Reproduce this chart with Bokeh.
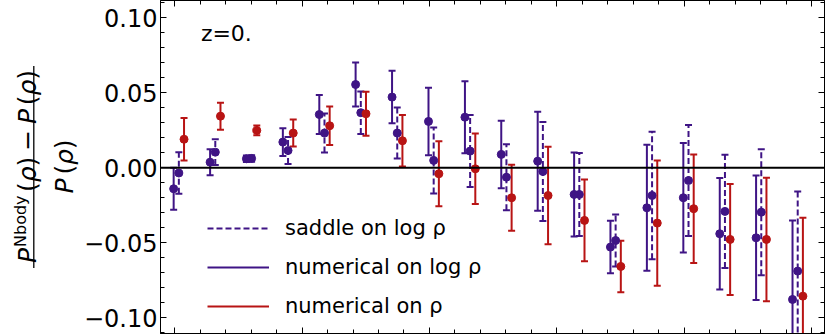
import numpy as np
from bokeh.plotting import figure
from bokeh.layouts import row
from bokeh.models import (ColumnDataSource, Whisker, TeeHead, Span, Label, Legend, LegendItem,
                          LinearAxis, FixedTicker, CustomJSTickFormatter, Arrow, Range1d)
from bokeh.embed import file_html
from bokeh.resources import INLINE

# ---------------- data ----------------
group_x = [0.033, 0.319, 0.604, 0.890, 1.176, 1.461, 1.747, 2.033, 2.319,
           2.604, 2.890, 3.176, 3.461, 3.747, 4.033, 4.319, 4.604, 4.890]

saddle_log = [-0.0035, 0.0104, 0.0062, 0.0115, 0.0231, 0.0367, 0.0231, 0.0049, 0.0111,
              -0.0063, -0.0025, -0.0178, -0.0485, -0.0185, -0.0085, -0.0291, -0.0296, -0.0689]
saddle_log_err = [0.0138, 0.0086, 0.0022, 0.0090, 0.0130, 0.0142, 0.0170, 0.0220, 0.0240,
                  0.0220, 0.0330, 0.0277, 0.0173, 0.0425, 0.0370, 0.0378, 0.0420, 0.0530]

numerical_log = [-0.0140, 0.0037, 0.0060, 0.0171, 0.0355, 0.0555, 0.0471, 0.0309, 0.0337,
                 0.0089, 0.0044, -0.0178, -0.0529, -0.0267, -0.0200, -0.0440, -0.0467, -0.0878]
numerical_log_err = [0.0140, 0.0087, 0.0022, 0.0093, 0.0130, 0.0147, 0.0175, 0.0225, 0.0240,
                     0.0225, 0.0330, 0.0280, 0.0175, 0.0420, 0.0365, 0.0372, 0.0415, 0.0527]

numerical_rho = [0.0190, 0.0344, 0.0249, 0.0231, 0.0280, 0.0360, 0.0180, -0.0040, -0.0007,
                 -0.0200, -0.0185, -0.0351, -0.0658, -0.0369, -0.0273, -0.0478, -0.0478, -0.0856]
numerical_rho_err = [0.0142, 0.0090, 0.0033, 0.0090, 0.0128, 0.0147, 0.0172, 0.0217, 0.0235,
                     0.0220, 0.0325, 0.0273, 0.0172, 0.0417, 0.0362, 0.0370, 0.0412, 0.0523]

series_labels = ["saddle on log ρ", "numerical on log ρ", "numerical on ρ"]
ytick_values = [-0.10, -0.05, 0.0, 0.05, 0.10]
ytick_labels = ["−0.10", "−0.05", "0.00", "0.05", "0.10"]
xtick_values = [0, 1, 2, 3, 4, 5]
panel_label = "z=0."

# ---------------- styles / layout ----------------
PURPLE = "#3f1485"
RED = "#b81414"
FONT = "DejaVu Sans"

TW = 80                      # width of the strip holding the y title
W, H = 830 - TW, 336
BL, BR, BT, BB = 158 - TW, 6, 0, 3
FW, FH = W - BL - BR, H - BT - BB
XSCALE = 127.8
X_START = -0.111
X_END = X_START + FW / XSCALE
YSCALE = 1500.0
Y_END = 0.1115
Y_START = Y_END - FH / YSCALE
OFF = 5.2 / XSCALE


def dx(page_x):
    return X_START + (page_x - (TW + BL)) / XSCALE


def dy(page_y):
    return Y_END - (page_y - BT) / YSCALE


p = figure(width=W, height=H, x_range=Range1d(X_START, X_END), y_range=Range1d(Y_START, Y_END),
           output_backend="svg", toolbar_location=None,
           min_border_left=BL, min_border_right=BR, min_border_top=BT, min_border_bottom=BB)
p.xgrid.visible = False
p.ygrid.visible = False
p.outline_line_color = "black"
p.outline_line_width = 1
p.background_fill_color = "white"
p.border_fill_color = "white"

xminor = [round(v, 1) for v in np.arange(0, 5.01, 0.2)]
yminor = [round(v, 2) for v in np.arange(-0.11, 0.111, 0.01)]


def style_axis(ax, ticker, labels=False):
    ax.ticker = ticker
    ax.axis_line_color = "black"
    ax.axis_line_width = 1
    ax.major_tick_in = 6
    ax.major_tick_out = 0
    ax.minor_tick_in = 4
    ax.minor_tick_out = 0
    ax.major_tick_line_color = "black"
    ax.minor_tick_line_color = "black"
    if not labels:
        ax.formatter = CustomJSTickFormatter(code="return ''")
        ax.major_label_text_font_size = "0px"
        ax.major_label_standoff = 0


style_axis(p.xaxis[0], FixedTicker(ticks=xtick_values, minor_ticks=xminor))
style_axis(p.yaxis[0], FixedTicker(ticks=ytick_values, minor_ticks=yminor), labels=True)
p.yaxis[0].major_label_overrides = dict(zip(ytick_values, ytick_labels))
p.yaxis[0].major_label_text_font = FONT
p.yaxis[0].major_label_text_font_size = "24px"
p.yaxis[0].major_label_text_color = "black"
p.yaxis[0].major_label_standoff = 3

top_ax = LinearAxis()
style_axis(top_ax, FixedTicker(ticks=xtick_values, minor_ticks=xminor))
p.add_layout(top_ax, "above")
right_ax = LinearAxis()
style_axis(right_ax, FixedTicker(ticks=ytick_values, minor_ticks=yminor))
p.add_layout(right_ax, "right")

p.add_layout(Span(location=0, dimension="width", line_color="black", line_width=2))

series = [
    (saddle_log, saddle_log_err, 0.0, PURPLE, "6 3"),
    (numerical_log, numerical_log_err, -OFF, PURPLE, "solid"),
    (numerical_rho, numerical_rho_err, OFF, RED, "solid"),
]
legend_items = []
for (vals, errs, off, col, dash), lab in zip(series, series_labels):
    xs = [g + off for g in group_x]
    src = ColumnDataSource(dict(x=xs, y=vals,
                                upper=[v + e for v, e in zip(vals, errs)],
                                lower=[v - e for v, e in zip(vals, errs)]))
    wk = Whisker(base="x", upper="upper", lower="lower", source=src, dimension="height",
                 line_color=col, line_width=2, line_dash=dash,
                 upper_head=TeeHead(size=7, line_color=col, line_width=2),
                 lower_head=TeeHead(size=7, line_color=col, line_width=2))
    p.add_layout(wk)
    p.scatter("x", "y", source=src, size=8, color=col)
    # hidden line through the series, used only for the legend sample
    r = p.line("x", "y", source=src, line_color=col, line_width=2, line_dash=dash, visible=False)
    legend_items.append(LegendItem(label=lab, renderers=[r]))

legend = Legend(items=legend_items, location=(47, 14), glyph_width=62, glyph_height=26,
                label_height=26, label_standoff=16, spacing=13, padding=0, margin=0,
                border_line_alpha=0, background_fill_alpha=0,
                label_text_font=FONT, label_text_font_size="21px", label_text_color="black")
p.add_layout(legend)

p.add_layout(Label(x=dx(198.5), y=dy(32.7), text=panel_label, text_font=FONT,
                   text_font_size="22px", text_align="left", text_baseline="alphabetic",
                   text_color="black"))

# ---------------- rotated fraction title (own strip, page pixel coordinates) ----------------
t = figure(width=TW, height=H, x_range=Range1d(0, TW), y_range=Range1d(0, H),
           output_backend="svg", toolbar_location=None, x_axis_type=None, y_axis_type=None,
           min_border=0, min_border_left=0, min_border_right=0, min_border_top=0,
           min_border_bottom=0)
t.xgrid.visible = False
t.ygrid.visible = False
t.outline_line_color = None
t.background_fill_color = "white"
t.border_fill_color = "white"


def place(pieces, start_y, base_x):
    y = start_y
    for txt, ital, size, shift, adv in pieces:
        t.add_layout(Label(x=base_x + shift, y=H - y, text=txt, angle=np.pi / 2,
                           text_font=FONT, text_font_size=f"{size}px",
                           text_font_style="italic" if ital else "normal",
                           text_align="left", text_baseline="alphabetic", text_color="black"))
        y -= adv


num = [("P", True, 25, 0, 16.1), ("Nbody", False, 16, -7, 55.6),
       ("(", False, 25, 0, 9.75), ("ρ", True, 25, 0, 15.9), (")", False, 25, 0, 15.75),
       ("−", False, 25, 0, 27.0), ("P", True, 25, 0, 19.1),
       ("(", False, 25, 0, 9.75), ("ρ", True, 25, 0, 15.9), (")", False, 25, 0, 9.75)]
den = [("P", True, 25, 0, 19.1), ("(", False, 25, 0, 9.75), ("ρ", True, 25, 0, 15.9),
       (")", False, 25, 0, 9.75)]
num_len = sum(pc[4] for pc in num)
den_len = sum(pc[4] for pc in den)
place(num, 167.5 + num_len / 2, 26.5)
place(den, 167.5 + den_len / 2, 64.0)
t.add_layout(Arrow(start=None, end=None, x_start=33.3, y_start=H - 270, x_end=33.3,
                   y_end=H - 66, line_color="black", line_width=1.3))

layout = row(t, p, spacing=0)
open("out.html", "w", encoding="utf-8").write(file_html(layout, INLINE))
